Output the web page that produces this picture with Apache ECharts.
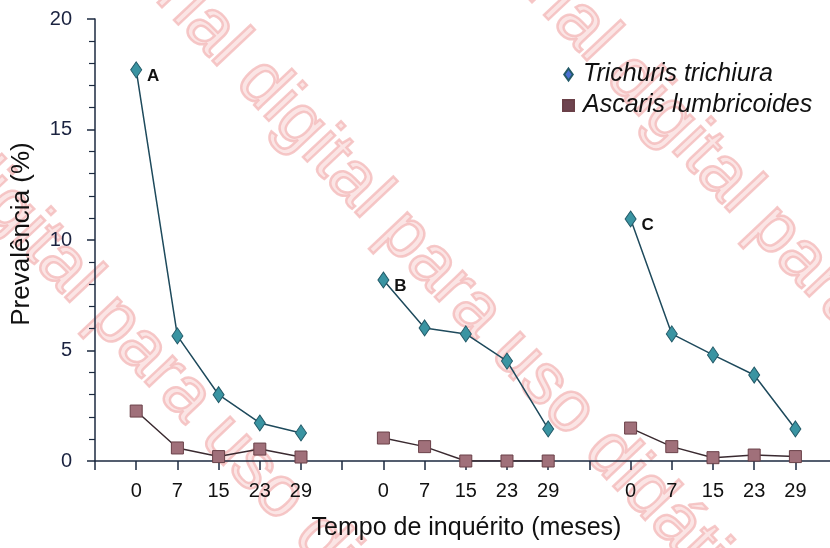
<!DOCTYPE html>
<html>
<head>
<meta charset="utf-8">
<script src="https://cdn.jsdelivr.net/npm/echarts@6/dist/echarts.min.js"></script>
<style>
    html, body { margin: 0; padding: 0; background: #fff; }
    #chart { width: 830px; height: 548px; }
</style>
</head>
<body>
<div id="chart"></div>
<script>
    // tempo de inquérito (meses) em cada ronda
    var months = ['0', '7', '15', '23', '29'];
    var groupLabels = ['A', 'B', 'C'];
    // prevalência (%) por grupo
    var trichurisA = [17.7, 5.66, 3.0, 1.72, 1.27];
    var trichurisB = [8.19, 6.02, 5.75, 4.52, 1.45];
    var trichurisC = [10.95, 5.75, 4.8, 3.89, 1.45];
    var ascarisA = [2.26, 0.59, 0.2, 0.54, 0.18];
    var ascarisB = [1.04, 0.65, 0, 0, 0];
    var ascarisC = [1.49, 0.65, 0.15, 0.27, 0.2];
    var yTicks = [0, 5, 10, 15, 20];

    var fontName = '"Liberation Sans", Arial, sans-serif';

    // posições no eixo x: um espaço vazio antes e entre os grupos
    var tickLabels = [''];
    [0, 1, 2].forEach(function () {
        tickLabels = tickLabels.concat(months, ['']);
    });

    function buildSeriesData(groups, withLabels) {
        var out = [];
        groups.forEach(function (vals, g) {
            var base = 1 + g * (months.length + 1);
            vals.forEach(function (v, i) {
                var item = { value: [base + i, v] };
                if (withLabels && i === 0) {
                    item.label = {
                        show: true,
                        formatter: groupLabels[g],
                        position: 'right',
                        distance: 5,
                        offset: [0, 6],
                        color: '#111',
                        fontFamily: fontName,
                        fontWeight: 'bold',
                        fontSize: 17
                    };
                }
                out.push(item);
            });
            // quebra a linha entre grupos
            out.push({ value: [base + vals.length, '-'] });
        });
        return out;
    }

    var trichurisData = buildSeriesData([trichurisA, trichurisB, trichurisC], true);
    var ascarisData = buildSeriesData([ascarisA, ascarisB, ascarisC], false);

    // marca d'água
    var wmText = 'Material digital para uso didático';
    var wmStarts = [[-231, -46], [59, -131], [429, -136]];
    var watermark = wmStarts.map(function (p) {
        return {
            type: 'text',
            x: p[0],
            y: p[1],
            rotation: -46.7 * Math.PI / 180,
            silent: true,
            z: -10,
            style: {
                text: wmText,
                font: '72px ' + fontName,
                fill: 'rgba(246, 190, 190, 0.4)',
                stroke: 'rgba(238, 145, 145, 0.5)',
                lineWidth: 2.5,
                verticalAlign: 'middle',
                align: 'left'
            }
        };
    });

    var myChart = echarts.init(document.getElementById('chart'));
    myChart.setOption({
        animation: false,
        backgroundColor: '#fff',
        graphic: watermark,
        grid: {
            left: 95,
            right: 0,
            top: 19,
            bottom: 87
        },
        legend: {
            orient: 'vertical',
            left: 557,
            top: 57,
            itemWidth: 11,
            itemHeight: 12,
            itemGap: 6,
            symbolKeepAspect: true,
            textStyle: {
                fontFamily: fontName,
                fontStyle: 'italic',
                fontSize: 25,
                color: '#111',
                padding: [0, 0, 0, 4]
            },
            data: [
                { name: 'Trichuris trichiura', icon: 'path://M5,0L10,7L5,14L0,7Z', itemStyle: { color: '#4a6fd0' } },
                { name: 'Ascaris lumbricoides', icon: 'path://M0,0H10V10H0Z', itemStyle: { color: '#6e4450' } }
            ]
        },
        xAxis: {
            type: 'value',
            min: 0,
            max: 17.84,
            interval: 1,
            name: 'Tempo de inquérito (meses)',
            nameLocation: 'middle',
            nameGap: 55,
            nameTextStyle: {
                fontFamily: fontName,
                fontSize: 25,
                color: '#111',
                padding: [0, 0, 0, 8]
            },
            axisLine: { lineStyle: { color: '#1c2a40', width: 1.5 } },
            axisTick: {
                show: true,
                length: 9,
                lineStyle: { color: '#1c2a40', width: 1.5 }
            },
            axisLabel: {
                margin: 20,
                fontFamily: fontName,
                fontSize: 20,
                color: '#111',
                showMaxLabel: false,
                formatter: function (v) {
                    return tickLabels[v] || '';
                }
            },
            splitLine: { show: false }
        },
        yAxis: {
            type: 'value',
            min: yTicks[0],
            max: yTicks[yTicks.length - 1],
            interval: 5,
            name: 'Prevalência (%)',
            nameLocation: 'middle',
            nameGap: 60,
            nameRotate: 90,
            nameTextStyle: {
                fontFamily: fontName,
                fontSize: 26,
                color: '#111',
                padding: [0, 0, 0, 12]
            },
            axisLine: { show: true, lineStyle: { color: '#1c2a40', width: 1.5 } },
            axisTick: {
                show: true,
                length: 8,
                lineStyle: { color: '#1c2a40', width: 1.5 }
            },
            minorTick: {
                show: true,
                splitNumber: 5,
                length: 6,
                lineStyle: { color: '#1c2a40', width: 1.2 }
            },
            axisLabel: {
                margin: 23,
                fontFamily: fontName,
                fontSize: 20,
                color: '#1b2340'
            },
            splitLine: { show: false }
        },
        series: [
            {
                name: 'Trichuris trichiura',
                type: 'line',
                data: trichurisData,
                connectNulls: false,
                symbol: 'diamond',
                symbolSize: [11, 16],
                z: 3,
                lineStyle: { color: '#1e4a5c', width: 1.5 },
                itemStyle: { color: '#3a94a2', borderColor: '#235a68', borderWidth: 1 }
            },
            {
                name: 'Ascaris lumbricoides',
                type: 'line',
                data: ascarisData,
                connectNulls: false,
                symbol: 'rect',
                symbolSize: 12,
                z: 3,
                lineStyle: { color: '#3a2a30', width: 1.5 },
                itemStyle: { color: '#a0707a', borderColor: '#6a4048', borderWidth: 1 }
            }
        ]
    });
</script>
</body>
</html>
